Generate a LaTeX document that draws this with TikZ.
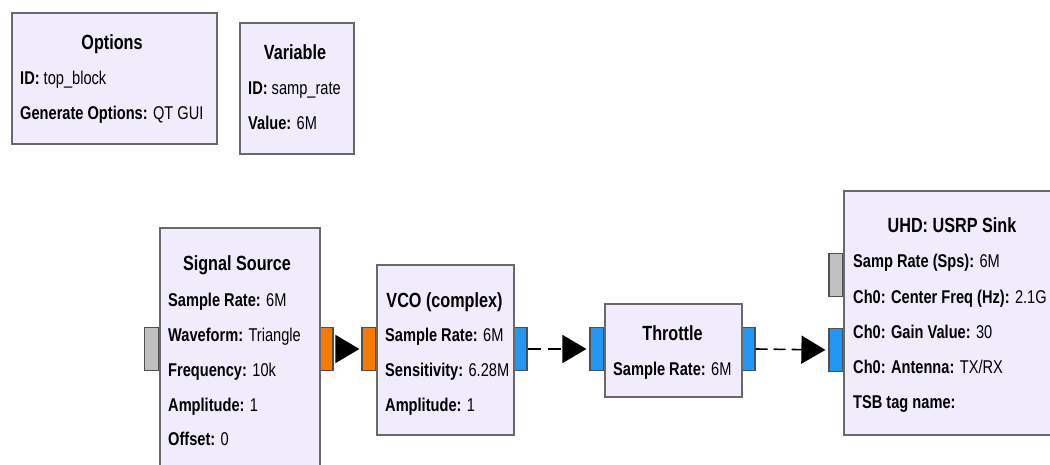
\documentclass[tikz,border=0pt]{standalone}
\usepackage{fontspec}
\setmainfont{Liberation Sans}[FakeStretch=0.79]
\usetikzlibrary{arrows.meta}

\definecolor{blockfill}{RGB}{240,236,252}
\definecolor{blockline}{RGB}{105,105,105}
\definecolor{portline}{RGB}{80,80,80}
\definecolor{portorange}{RGB}{245,124,0}
\definecolor{portblue}{RGB}{33,150,243}
\definecolor{portgray}{RGB}{192,192,192}

\tikzset{
  block/.style={draw=blockline, fill=blockfill, line width=1.6pt, rectangle,
    inner sep=0pt, anchor=north west},
  port/.style={draw=portline, line width=1.2pt, rectangle, inner sep=0pt,
    minimum width=14pt, minimum height=43pt},
  ttl/.style={inner sep=0pt, anchor=base, font=\fontsize{20.5}{22}\selectfont\bfseries},
  lbl/.style={inner sep=0pt, anchor=base west, font=\fontsize{18.5}{20}\selectfont},
  link/.style={line width=1.6pt, -{Triangle[length=24pt,width=28pt]}},
  solidlink/.style={link, shorten >=2pt, shorten <=2pt},
  dashlink/.style={link, dash pattern=on 13pt off 7pt, shorten >=3pt}
}

\begin{document}
\begin{tikzpicture}[x=1pt, y=-1pt]
\useasboundingbox (0,0) rectangle (1050,465);
\clip (0,0) rectangle (1050,465);
\fill[white] (0,0) rectangle (1050,465);

% ---- Options ----
\node[block, minimum width=205pt, minimum height=131pt] (opt) at (11,12) {};
\node[ttl] (optT) at (112,50) {Options};
\node[lbl] (optA) at (20,85) {\textbf{ID:} top\_block};
\node[lbl] (optB) at (20,120) {\textbf{Generate Options:} QT GUI};

% ---- Variable ----
\node[block, minimum width=114pt, minimum height=131pt] (var) at (239,22) {};
\node[ttl] (varT) at (295,60) {Variable};
\node[lbl] (varA) at (248,95) {\textbf{ID:} samp\_rate};
\node[lbl] (varB) at (248,130) {\textbf{Value:} 6M};

% ---- ports (drawn first so block borders lie on top) ----
\node[port, fill=portgray]   (sigin)  at (151.5,349) {};
\node[port, fill=portorange] (sigout) at (326,349) {};
\node[port, fill=portorange] (vcoin)  at (369,349) {};
\node[port, fill=portblue]   (vcoout) at (520,349) {};
\node[port, fill=portblue]   (thrin)  at (597,349) {};
\node[port, fill=portblue]   (throut) at (748,349) {};
\node[port, fill=portgray]   (usrpmsg) at (836,275) {};
\node[port, fill=portblue]   (usrpin) at (836,350) {};

% ---- Signal Source ----
\node[block, minimum width=160pt, minimum height=260pt] (sig) at (159,227) {};
\node[ttl] (sigT) at (237,270) {Signal Source};
\node[lbl] (sigA) at (168,306) {\textbf{Sample Rate:} 6M};
\node[lbl] (sigB) at (168,341) {\textbf{Waveform:} Triangle};
\node[lbl] (sigC) at (168,376) {\textbf{Frequency:} 10k};
\node[lbl] (sigD) at (168,411) {\textbf{Amplitude:} 1};
\node[lbl] (sigE) at (168,445) {\textbf{Offset:} 0};

% ---- VCO (complex) ----
\node[block, minimum width=137pt, minimum height=170pt] (vco) at (376,264) {};
\node[ttl] (vcoT) at (444.5,307) {VCO (complex)};
\node[lbl] (vcoA) at (385,341) {\textbf{Sample Rate:} 6M};
\node[lbl] (vcoB) at (385,376) {\textbf{Sensitivity:} 6.28M};
\node[lbl] (vcoC) at (385,411) {\textbf{Amplitude:} 1};

% ---- Throttle ----
\node[block, minimum width=137pt, minimum height=93pt] (thr) at (604,303) {};
\node[ttl] (thrT) at (672.5,340) {Throttle};
\node[lbl] (thrA) at (613,375) {\textbf{Sample Rate:} 6M};

% ---- UHD: USRP Sink ----
\node[block, minimum width=230pt, minimum height=244pt] (usrp) at (843,190) {};
\node[ttl] (usrpT) at (952,233) {UHD: USRP Sink};
\node[lbl] (usrpA) at (853,268) {\textbf{Samp Rate (Sps):} 6M};
\node[lbl] (usrpB) at (853,303) {\textbf{Ch0: Center Freq (Hz):} 2.1G};
\node[lbl] (usrpC) at (853,338) {\textbf{Ch0: Gain Value:} 30};
\node[lbl] (usrpD) at (853,373) {\textbf{Ch0: Antenna:} TX/RX};
\node[lbl] (usrpE) at (853,408) {\textbf{TSB tag name:}};

% ---- connections ----
\draw[solidlink] (sigout.east) -- (vcoin.west);
\draw[dashlink] (vcoout.east) -- (thrin.west);
\draw[dashlink, dash pattern=on 12pt off 6pt] (throut.east) -- (usrpin.west);
\end{tikzpicture}
\end{document}
